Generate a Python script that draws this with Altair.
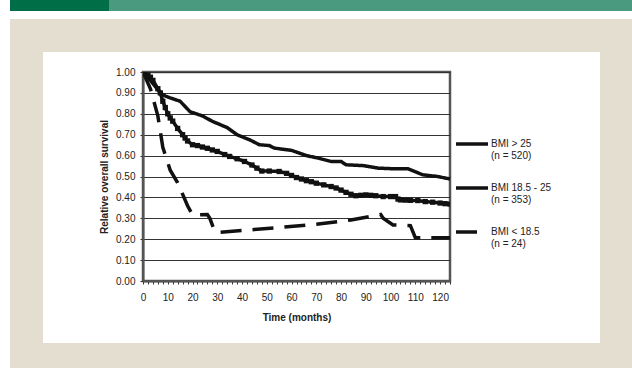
import altair as alt
import pandas as pd

series_names = ["BMI > 25|(n = 520)", "BMI 18.5 - 25|(n = 353)", "BMI < 18.5|(n = 24)"]

months_high = [0, 3, 5, 7, 9, 11, 15, 19, 24, 28, 34, 38, 43, 47, 51, 53, 60, 66, 70, 76, 80, 82, 89, 95, 101, 107, 113, 119, 124]
surv_high = [1.00, 0.96, 0.93, 0.90, 0.885, 0.876, 0.86, 0.81, 0.79, 0.764, 0.734, 0.70, 0.676, 0.652, 0.648, 0.636,
             0.625, 0.60, 0.59, 0.572, 0.572, 0.556, 0.552, 0.54, 0.537, 0.537, 0.508, 0.50, 0.488]

months_mid = [0, 2, 3, 4, 6, 7, 8, 9, 10, 11, 12, 14, 16, 17, 18, 20, 22, 24, 26, 28, 30, 33, 35, 38, 41, 44, 46, 48,
              51, 55, 58, 60, 62, 64, 66, 68, 70, 73, 76, 78, 80, 82, 84, 86, 88, 90, 92, 94, 97, 100, 102, 103, 104,
              106, 108, 111, 114, 117, 120, 122, 124]
surv_mid = [1.00, 0.985, 0.975, 0.96, 0.92, 0.90, 0.86, 0.83, 0.80, 0.78, 0.765, 0.73, 0.70, 0.684, 0.67, 0.652, 0.648,
            0.641, 0.635, 0.627, 0.62, 0.605, 0.596, 0.585, 0.572, 0.555, 0.54, 0.526, 0.526, 0.524, 0.515, 0.505,
            0.495, 0.488, 0.48, 0.475, 0.468, 0.46, 0.452, 0.445, 0.435, 0.424, 0.415, 0.408, 0.41, 0.412, 0.41,
            0.408, 0.404, 0.404, 0.404, 0.392, 0.388, 0.387, 0.386, 0.385, 0.38, 0.377, 0.373, 0.37, 0.368]

months_low = [0, 3, 6, 8, 11, 14, 18, 20, 26, 27, 29, 30, 57, 70, 84, 96, 97, 101, 108, 110, 124]
surv_low = [1.00, 0.92, 0.79, 0.64, 0.53, 0.47, 0.36, 0.316, 0.318, 0.30, 0.236, 0.232, 0.258, 0.272, 0.292, 0.318,
            0.30, 0.268, 0.265, 0.207, 0.207]

x_ticks = list(range(0, 125, 2))
y_ticks = [0.0, 0.1, 0.2, 0.3, 0.4, 0.5, 0.6, 0.7, 0.8, 0.9, 1.0]

rows = []
for name, ms, ss in zip(series_names, [months_high, months_mid, months_low], [surv_high, surv_mid, surv_low]):
    for m, s in zip(ms, ss):
        rows.append({"series": name, "month": m, "survival": s})
df = pd.DataFrame(rows)
df_mid = df[df["series"] == series_names[1]]

FONT = "Liberation Sans"

x_axis = alt.Axis(values=x_ticks, labelExpr="datum.value % 10 == 0 ? datum.label : ''",
                  title="Time (months)", grid=False, tickSize=3, tickColor="#333",
                  domainColor="#555", domainWidth=2, labelPadding=8, titlePadding=10,
                  labelFont=FONT, labelFontSize=10, labelColor="#222", titleFont=FONT,
                  titleFontSize=10, titleFontWeight="bold", titleColor="#222", labelFlush=False,
                  labelOverlap=False, labelBound=False)
y_axis = alt.Axis(values=y_ticks, format=".2f", title="Relative overall survival", grid=True,
                  gridColor="#333", gridWidth=1, tickSize=3, tickColor="#333", domainColor="#555",
                  domainWidth=2, labelPadding=5, titlePadding=6, labelFont=FONT, labelFontSize=10,
                  labelColor="#222", titleFont=FONT, titleFontSize=10, titleFontWeight="bold",
                  titleColor="#222", labelOverlap=False, labelBound=False, labelFlush=False)

x_enc = alt.X("month:Q", scale=alt.Scale(domain=[0, 124], nice=False, zero=False), axis=x_axis)
y_enc = alt.Y("survival:Q", scale=alt.Scale(domain=[0, 1], nice=False), axis=y_axis)

lines = alt.Chart(df).mark_line(color="#111", strokeWidth=3.5, clip=True).encode(
    x=x_enc, y=y_enc,
    strokeDash=alt.StrokeDash("series:N",
                              scale=alt.Scale(domain=series_names, range=[[1, 0], [1, 0], [21, 11]]),
                              legend=alt.Legend(title=None, orient="none", legendX=311, legendY=54,
                                                symbolType="stroke", symbolSize=1024, symbolStrokeWidth=3.5,
                                                symbolStrokeColor="#111", labelFont=FONT, labelFontSize=10,
                                                labelColor="#222", labelOffset=1, rowPadding=9, padding=0,
                                                labelLimit=200,
                                                labelExpr="split(datum.label, '|')")),
)

points = alt.Chart(df_mid).mark_point(shape="square", filled=True, size=28, color="#111", opacity=1, clip=True).encode(
    x=x_enc, y=y_enc)

one = pd.DataFrame({"k": [0]})


def deco(x1, x2, y1, y2, color):
    return alt.Chart(one).mark_rect(color=color).encode(
        x=alt.value(x1), x2=alt.value(x2), y=alt.value(y1), y2=alt.value(y2))


BEIGE = "#e4ded1"
decos = [
    deco(-133, -34, -72, -61, "#006e47"),
    deco(-34, 489, -72, -61, "#4a9a7f"),
    deco(-133, 489, -53, -20, BEIGE),
    deco(-133, 489, 271, 296, BEIGE),
    deco(-133, -100, -20, 271, BEIGE),
    deco(457, 489, -20, 271, BEIGE),
]

chart = alt.layer(*decos, lines, points).properties(
    width=307, height=209,
    padding={"left": 143, "top": 72, "right": 182, "bottom": 87},
    autosize=alt.AutoSizeParams(type="none"),
    background="white",
).configure_view(stroke="#555", strokeWidth=2.5)

chart.save("out.html", embed_options={"renderer": "svg", "actions": False})
